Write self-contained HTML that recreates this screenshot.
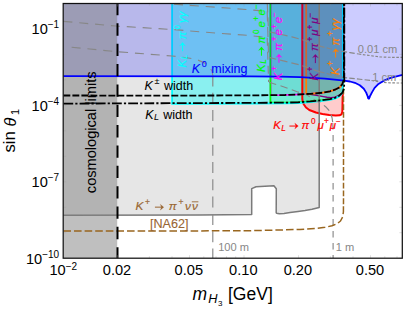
<!DOCTYPE html>
<html><head><meta charset="utf-8"><title>plot</title>
<style>html,body{margin:0;padding:0;background:#fff;}svg{display:block;}text{white-space:pre;}</style></head>
<body>
<svg width="407" height="309" viewBox="0 0 407 309">
<defs><clipPath id="c"><rect x="63.2" y="3.5" width="339.1" height="254.7"/></clipPath></defs>
<rect width="407" height="309" fill="#fff"/>
<g clip-path="url(#c)" fill="none" stroke-linejoin="round">
<path d="M63.4,3.4 L319.2,3.4 L319.2,207.4 L312.0,209.3 L305.0,210.6 L298.0,211.6 L290.0,212.6 L284.0,213.4 L279.3,213.8 L276.5,213.3 L276.2,212.6 L276.3,188.8 L273.9,185.7 L256.0,186.8 L251.7,188.6 L251.7,214.4 L200.0,215.0 L63.4,215.2 Z" fill="rgba(128,128,128,0.2)"/>
<path d="M302.3,3.4 L302.3,99.0 L302.8,102.0 L303.9,104.5 L306.0,107.5 L309.3,110.0 L315.9,112.5 L322.5,113.9 L329.2,114.9 L335.8,115.4 L339.5,115.3 L341.5,114.3 L342.3,112.0 L342.5,106.0 L342.6,98.0 L343.0,90.0 L343.3,3.4 Z" fill="rgba(255,0,0,0.2)"/>
<path d="M172.1,3.4 L172.1,103.9 L250.0,103.6 L285.0,103.3 L298.0,103.0 L310.3,102.1 L322.6,100.9 L330.0,99.9 L334.9,98.6 L339.3,96.4 L341.6,94.2 L342.7,90.5 L342.9,86.0 L342.9,3.4 Z" fill="rgba(0,255,255,0.4)"/>
<path d="M270.4,3.4 L270.4,102.7 L285.0,102.6 L298.0,102.3 L310.3,101.4 L322.6,100.2 L330.0,99.2 L334.9,97.9 L339.3,95.7 L342.5,92.6 L343.8,88.9 L344.3,84.0 L344.3,3.4 Z" fill="rgba(0,240,100,0.2)"/>
<path d="M302.5,3.4 L302.5,94.0 L310.0,94.3 L316.4,95.3 L322.0,96.4 L327.0,97.3 L331.0,97.6 L334.9,97.2 L338.5,95.6 L341.0,93.8 L342.8,91.5 L343.3,88.5 L343.3,3.4 Z" fill="rgba(128,0,128,0.1)"/>
<path d="M270.6,3.4 L270.6,95.2 L285.0,95.0 L298.0,94.5 L310.3,93.8 L322.6,92.7 L330.0,91.3 L334.9,89.7 L339.3,87.5 L342.2,84.5 L343.4,80.7 L343.9,76.0 L343.9,3.4 Z" fill="rgba(110,30,220,0.09)"/>
<path d="M270.6,3.4 L270.6,95.2 L285.0,95.0 L298.0,94.5 L310.3,93.8 L322.6,92.7 L330.0,91.3 L334.9,89.7 L339.3,87.5 L342.2,84.5 L343.4,80.7" stroke="#ff00ff" stroke-width="1.6"/>
<path d="M270.4,3.4 L270.4,102.7 L285.0,102.6 L298.0,102.3 L310.3,101.4 L322.6,100.2 L330.0,99.2 L334.9,97.9 L339.3,95.7 L342.5,92.6 L343.8,88.9" stroke="#00ff00" stroke-width="1.8"/>
<path d="M310.0,94.3 L316.4,95.3 L322.0,96.4 L327.0,97.3 L331.0,97.6 L334.9,97.2 L338.5,95.6 L341.0,93.8" stroke="#800080" stroke-width="1.4"/>
<path d="M302.4,3.4 L302.4,94.2 L310.3,93.8 L322.6,92.7 L330.0,91.3 L334.9,89.7 L339.3,87.5 L342.2,84.5 L343.4,80.7 L343.9,76.0 L343.9,3.4 Z" fill="rgba(90,120,0,0.1)"/>
<path d="M306.2,3.4 L306.2,94.0 L310.3,93.8 L322.6,92.7 L330.0,91.3 L334.9,89.7 L339.3,87.5 L342.2,84.5 L343.4,80.7" stroke="#ff8000" stroke-width="1.8"/>
<path d="M302.3,3.4 L302.3,99.0 L302.8,102.0 L303.9,104.5 L306.0,107.5 L309.3,110.0 L315.9,112.5 L322.5,113.9 L329.2,114.9 L335.8,115.4 L339.5,115.3 L341.5,114.3 L342.3,112.0 L342.5,106.0 L342.6,98.0 L343.0,90.0 L343.3,3.4" stroke="#ff0000" stroke-width="2"/>
<path d="M172.1,3.4 L172.1,103.9 L250.0,103.6 L285.0,103.3 L298.0,103.0 L310.3,102.1 L322.6,100.9 L330.0,99.9 L334.9,98.6 L339.3,96.4 L341.6,94.2 L342.7,90.5 L342.9,86.0 L342.9,3.4" stroke="#00ffff" stroke-width="1.8"/>
<path d="M63.4,3.4 L63.4,76.2 L250.0,76.3 L280.0,76.6 L300.0,77.2 L324.6,78.6 L337.0,79.8 L343.9,80.7 L350.0,81.5 L354.9,82.8 L359.8,85.2 L363.8,88.7 L366.2,92.6 L367.7,96.5 L368.6,98.6 L369.0,98.6 L369.8,96.5 L372.1,92.1 L374.6,87.9 L378.5,83.9 L383.4,80.9 L390.0,78.1 L395.5,76.6 L402.5,74.9 L402.5,3.4 Z" fill="rgba(0,0,255,0.2)"/>
<path d="M319.2,3.4 L319.2,207.4 L312.0,209.3 L305.0,210.6 L298.0,211.6 L290.0,212.6 L284.0,213.4 L279.3,213.8 L276.5,213.3 L276.2,212.6 L276.3,188.8 L273.9,185.7 L256.0,186.8 L251.7,188.6 L251.7,214.4 L200.0,215.0 L63.4,215.2" stroke="#7a7a7a" stroke-width="1.5"/>
<rect x="63.4" y="3.4" width="53.8" height="254.9" fill="rgba(128,128,128,0.5)"/>
<path d="M63.4,21.4 L116.0,26.0 L172.0,29.5 L219.0,33.3 L248.5,35.4 L267.8,37.6" stroke="#878787" stroke-width="1.15" stroke-dasharray="9 6.9"/>
<path d="M174.0,4.2 L189.5,5.3 L219.0,7.4 L248.5,9.7 L267.8,11.4" stroke="#878787" stroke-width="1.15" stroke-dasharray="9 6.9"/>
<path d="M71.6,47.2 L116.0,51.6 L172.0,56.0 L190.0,58.2 L197.8,60.0 L205.5,63.4 L210.0,67.4 L212.2,71.5 L212.8,75.5" stroke="#878787" stroke-width="1.15" stroke-dasharray="9 6.9"/>
<path d="M267.3,3.4 L268.5,31.6" stroke="#878787" stroke-width="1.15" stroke-dasharray="9 5"/>
<path d="M267.2,11.5 L268.6,57.2 L269.0,57.4" stroke="#878787" stroke-width="1.15" stroke-dasharray="10 5.5"/>
<path d="M267.2,37.7 L268.6,82.1" stroke="#878787" stroke-width="1.15" stroke-dasharray="8 6"/>
<path d="M269.0,31.8 L291.9,36.9 L304.0,40.2 L318.4,45.6 L319.2,45.9" stroke="#878787" stroke-width="1.15" stroke-dasharray="7.5 4"/>
<path d="M269.0,57.4 L279.6,60.0 L300.0,64.9 L316.0,70.6 L319.2,71.6" stroke="#878787" stroke-width="1.15" stroke-dasharray="7.5 4"/>
<path d="M269.0,82.3 L283.4,86.7 L297.2,91.8 L307.5,95.2 L311.5,98.1 L319.5,102.4 L322.6,104.3 L325.6,106.7 L328.7,110.0 L330.8,113.5 L332.1,118.0 L332.8,123.0" stroke="#878787" stroke-width="1.15" stroke-dasharray="7.5 4.5"/>
<path d="M212.8,75.5 L212.8,258.3" stroke="#878787" stroke-width="1.15" stroke-dasharray="11 6.3"/>
<path d="M332.8,123.0 L333.1,135.8 L333.1,258.3" stroke="#878787" stroke-width="1.15" stroke-dasharray="6.5 5.5"/>
<path d="M319.2,45.9 L330.0,48.8 L343.0,51.4 L350.0,52.6 L358.7,54.0" stroke="#878787" stroke-width="1.15" stroke-dasharray="5.5 2.2"/>
<path d="M319.2,71.6 L330.7,74.6 L344.0,77.5 L360.0,79.2 L371.5,80.5" stroke="#878787" stroke-width="1.15" stroke-dasharray="5.5 2.2"/>
<path d="M358.7,54.0 L370.0,55.6 L380.9,57.0 L390.0,57.3 L402.5,57.3" stroke="#878787" stroke-width="1.15" stroke-dasharray="2.6 1.6"/>
<path d="M371.5,80.5 L380.0,82.0 L390.0,82.9 L402.5,83.0" stroke="#878787" stroke-width="1.15" stroke-dasharray="2.6 1.6"/>
<path d="M63.4,76.2 L250.0,76.3 L280.0,76.6 L300.0,77.2 L324.6,78.6 L337.0,79.8 L343.9,80.7 L350.0,81.5 L354.9,82.8 L359.8,85.2 L363.8,88.7 L366.2,92.6 L367.7,96.5 L368.6,98.6 L369.0,98.6 L369.8,96.5 L372.1,92.1 L374.6,87.9 L378.5,83.9 L383.4,80.9 L390.0,78.1 L395.5,76.6 L402.5,74.9" stroke="#0000ff" stroke-width="1.8"/>
<circle cx="368.7" cy="97.6" r="1.5" fill="#0000ff"/>
<path d="M63.4,230.9 L200.0,230.9 L250.0,230.7 L280.0,230.0 L300.0,229.4 L315.0,228.5 L325.0,227.3 L332.0,225.8 L337.0,223.8 L340.5,221.0 L342.6,217.0 L343.4,212.0" stroke="#99661f" stroke-width="1.5" stroke-dasharray="7.6 3.0"/>
<path d="M343.4,212.0 L343.5,200.0 L343.5,88.0" stroke="#99661f" stroke-width="1.5" stroke-dasharray="5.8 2.05"/>
<path d="M63.4,95.5 L172.0,95.6 L250.0,95.4 L285.0,95.0 L298.0,94.5 L310.3,93.8 L322.6,92.7 L330.0,91.3 L334.9,89.7 L339.3,87.5 L342.2,84.5 L343.4,80.7 L343.9,76.0 L343.9,3.4" stroke="#000" stroke-width="1.8" stroke-dasharray="6.9 2.1"/>
<path d="M63.4,103.6 L172.0,103.2 L250.0,102.9 L285.0,102.6 L298.0,102.3 L310.3,101.4 L322.6,100.2 L330.0,99.2 L334.9,97.9 L339.3,95.7 L342.5,92.6 L343.8,88.9 L344.3,84.0 L344.3,3.4" stroke="#000" stroke-width="1.8" stroke-dasharray="9.8 2.1 2.2 2.1"/>
<path d="M117.5,3.0 L117.5,258.3" stroke="#000" stroke-width="2" stroke-dasharray="12.3 8.05"/>
</g>
<path d="M63.2,258.2 h3 M402.3,258.2 h-3 M63.2,232.7 h3 M402.3,232.7 h-3 M63.2,207.3 h3 M402.3,207.3 h-3 M63.2,181.8 h3 M402.3,181.8 h-3 M63.2,156.3 h3 M402.3,156.3 h-3 M63.2,130.8 h3 M402.3,130.8 h-3 M63.2,105.4 h3 M402.3,105.4 h-3 M63.2,79.9 h3 M402.3,79.9 h-3 M63.2,54.4 h3 M402.3,54.4 h-3 M63.2,29.0 h3 M402.3,29.0 h-3 M63.2,3.5 h3 M402.3,3.5 h-3 M117.5,258.2 v-3 M117.5,3.5 v3 M149.4,258.2 v-2 M149.4,3.5 v2 M172.0,258.2 v-2 M172.0,3.5 v2 M189.5,258.2 v-3 M189.5,3.5 v3 M203.8,258.2 v-2 M203.8,3.5 v2 M216.0,258.2 v-2 M216.0,3.5 v2 M226.5,258.2 v-2 M226.5,3.5 v2 M235.7,258.2 v-2 M235.7,3.5 v2 M244.0,258.2 v-3 M244.0,3.5 v3 M298.5,258.2 v-3 M298.5,3.5 v3 M330.4,258.2 v-2 M330.4,3.5 v2 M353.0,258.2 v-2 M353.0,3.5 v2 M370.5,258.2 v-3 M370.5,3.5 v3 M384.8,258.2 v-2 M384.8,3.5 v2 M397.0,258.2 v-2 M397.0,3.5 v2" stroke="#9a9a9a" stroke-width="0.5" fill="none" opacity="0.6"/>
<rect x="63.2" y="3.5" width="339.1" height="254.7" fill="none" stroke="#111" stroke-width="1.25"/>
<g font-family="Liberation Sans, sans-serif" fill="#000">
<text x="59.2" y="34.1" text-anchor="end" font-size="14.6" >10<tspan font-size="10.0" dy="-5.9">−1</tspan></text>
<text x="59.2" y="110.6" text-anchor="end" font-size="14.6" >10<tspan font-size="10.0" dy="-5.9">−4</tspan></text>
<text x="59.2" y="187.0" text-anchor="end" font-size="14.6" >10<tspan font-size="10.0" dy="-5.9">−7</tspan></text>
<text x="59.2" y="263.5" text-anchor="end" font-size="14.6" >10<tspan font-size="10.0" dy="-5.9">−10</tspan></text>
<text x="63.3" y="275.4" text-anchor="middle" font-size="14.6" >10<tspan font-size="10.0" dy="-5.9">−2</tspan></text>
<text x="117.0" y="275.4" text-anchor="middle" font-size="14.6">0.02</text>
<text x="188.8" y="275.4" text-anchor="middle" font-size="14.6">0.05</text>
<text x="243.3" y="275.4" text-anchor="middle" font-size="14.6">0.10</text>
<text x="297.9" y="275.4" text-anchor="middle" font-size="14.6">0.20</text>
<text x="370.0" y="275.4" text-anchor="middle" font-size="14.6">0.50</text>
<text x="192.6" y="299.7" font-size="17.5" font-style="italic">m</text>
<text x="208.2" y="303.2" font-size="12.8" font-style="italic">H</text>
<text x="217.9" y="306.0" font-size="8">3</text>
<text x="228.0" y="299.7" font-size="17.5">[GeV]</text>
<text transform="translate(15.3,152.6) rotate(-90)" font-size="16.8">sin</text>
<text transform="translate(15.5,126.6) rotate(-90)" font-size="16.2" font-style="italic">θ</text>
<text transform="translate(19.4,115.0) rotate(-90)" font-size="11">1</text>
</g>
<g transform="translate(185.60,67.40) rotate(-90)" font-family="Liberation Sans, sans-serif" fill="#00ffff" stroke="#00ffff" stroke-width="0.18"><text x="0.00" y="0.00" font-size="11.40" font-style="italic">K</text><text x="8.10" y="1.48" font-size="8.21" font-style="italic">L</text><path d="M16.17,-3.05 H23.57" stroke="#00ffff" stroke-width="1" fill="none"/><path d="M25.07,-3.05 L21.47,-6.05 L22.67,-3.05 L21.47,-0.05 Z" fill="#00ffff"/><text x="28.27" y="0.00" font-size="11.40" font-style="italic">π</text><text x="37.81" y="-5.36" font-size="8.21">0</text><text x="44.37" y="0.00" font-size="11.40" font-style="italic">γγ</text></g>
<g transform="translate(264.50,71.90) rotate(-90)" font-family="Liberation Sans, sans-serif" fill="#00ff00" stroke="#00ff00" stroke-width="0.18"><text x="0.00" y="0.00" font-size="11.40" font-style="italic">K</text><text x="8.10" y="1.48" font-size="8.21" font-style="italic">L</text><path d="M16.17,-3.05 H23.57" stroke="#00ff00" stroke-width="1" fill="none"/><path d="M25.07,-3.05 L21.47,-6.05 L22.67,-3.05 L21.47,-0.05 Z" fill="#00ff00"/><text x="28.27" y="0.00" font-size="11.40" font-style="italic">π</text><text x="37.81" y="-5.36" font-size="8.21">0</text><text x="44.37" y="0.00" font-size="11.40" font-style="italic">e</text><text x="50.81" y="-5.36" font-size="8.21">+</text><text x="56.50" y="0.00" font-size="11.40" font-style="italic">e</text><text x="62.94" y="-5.36" font-size="8.21">−</text></g>
<g transform="translate(282.00,80.30) rotate(-90)" font-family="Liberation Sans, sans-serif" fill="#ff00ff" stroke="#ff00ff" stroke-width="0.18"><text x="0.00" y="0.00" font-size="11.40" font-style="italic">K</text><text x="9.20" y="-5.36" font-size="8.21">+</text><path d="M17.50,-3.05 H24.90" stroke="#ff00ff" stroke-width="1" fill="none"/><path d="M26.40,-3.05 L22.80,-6.05 L24.00,-3.05 L22.80,-0.05 Z" fill="#ff00ff"/><text x="29.60" y="0.00" font-size="11.40" font-style="italic">π</text><text x="39.13" y="-5.36" font-size="8.21">+</text><text x="44.83" y="0.00" font-size="11.40" font-style="italic">e</text><text x="51.27" y="-5.36" font-size="8.21">+</text><text x="56.96" y="0.00" font-size="11.40" font-style="italic">e</text><text x="63.40" y="-5.36" font-size="8.21">−</text></g>
<g transform="translate(318.40,80.60) rotate(-90)" font-family="Liberation Sans, sans-serif" fill="#800080" stroke="#800080" stroke-width="0.18"><text x="0.00" y="0.00" font-size="11.40" font-style="italic">K</text><text x="9.20" y="-5.36" font-size="8.21">+</text><path d="M17.50,-3.05 H24.90" stroke="#800080" stroke-width="1" fill="none"/><path d="M26.40,-3.05 L22.80,-6.05 L24.00,-3.05 L22.80,-0.05 Z" fill="#800080"/><text x="29.60" y="0.00" font-size="11.40" font-style="italic">π</text><text x="39.13" y="-5.36" font-size="8.21">+</text><text x="44.83" y="0.00" font-size="11.40" font-style="italic">μ</text><text x="51.17" y="-5.36" font-size="8.21">+</text><text x="56.87" y="0.00" font-size="11.40" font-style="italic">μ</text><text x="63.21" y="-5.36" font-size="8.21">−</text></g>
<g transform="translate(338.70,75.00) rotate(-90)" font-family="Liberation Sans, sans-serif" fill="#ff8000" stroke="#ff8000" stroke-width="0.18"><text x="0.00" y="0.00" font-size="11.40" font-style="italic">K</text><text x="9.20" y="-5.36" font-size="8.21">+</text><path d="M17.50,-3.05 H24.90" stroke="#ff8000" stroke-width="1" fill="none"/><path d="M26.40,-3.05 L22.80,-6.05 L24.00,-3.05 L22.80,-0.05 Z" fill="#ff8000"/><text x="29.60" y="0.00" font-size="11.40" font-style="italic">π</text><text x="39.13" y="-5.36" font-size="8.21">+</text><text x="44.83" y="0.00" font-size="11.40" font-style="italic">γγ</text></g>
<g transform="translate(273.25,129.10)" font-family="Liberation Sans, sans-serif" fill="#ff0000" stroke="#ff0000" stroke-width="0.18"><text x="0.00" y="0.00" font-size="11.40" font-style="italic">K</text><text x="8.10" y="1.48" font-size="8.21" font-style="italic">L</text><path d="M16.17,-3.05 H23.57" stroke="#ff0000" stroke-width="1" fill="none"/><path d="M25.07,-3.05 L21.47,-6.05 L22.67,-3.05 L21.47,-0.05 Z" fill="#ff0000"/><text x="28.27" y="0.00" font-size="11.40" font-style="italic">π</text><text x="37.81" y="-5.36" font-size="8.21">0</text><text x="44.37" y="0.00" font-size="11.40" font-style="italic">μ</text><text x="50.72" y="-5.36" font-size="8.21">+</text><text x="56.41" y="0.00" font-size="11.40" font-style="italic">μ</text><text x="62.75" y="-5.36" font-size="8.21">−</text></g>
<g transform="translate(191.70,73.20)" font-family="Liberation Sans, sans-serif" fill="#0000ff" stroke="#0000ff" stroke-width="0.10"><text x="0.00" y="0.00" font-size="12.50" font-style="italic">K</text><text x="9.94" y="-5.88" font-size="9.00">0</text><text x="19.54" y="0.00" font-size="12.50">mixing</text></g>
<g transform="translate(144.60,90.10)" font-family="Liberation Sans, sans-serif" fill="#000" stroke="#000" stroke-width="0.05"><text x="0.00" y="0.00" font-size="12.50" font-style="italic">K</text><text x="9.94" y="-5.88" font-size="9.00">±</text><text x="19.38" y="0.00" font-size="12.50">width</text></g>
<g transform="translate(145.20,118.50)" font-family="Liberation Sans, sans-serif" fill="#000" stroke="#000" stroke-width="0.05"><text x="0.00" y="0.00" font-size="12.50" font-style="italic">K</text><text x="8.84" y="1.62" font-size="9.00" font-style="italic">L</text><text x="18.04" y="0.00" font-size="12.50">width</text></g>
<g transform="translate(135.60,210.20)" font-family="Liberation Sans, sans-serif" fill="#996633" stroke="#996633" stroke-width="0.18"><text x="0.00" y="0.00" font-size="11.80" font-style="italic">K</text><text x="9.47" y="-5.55" font-size="8.50">+</text><path d="M19.33,-3.05 H26.73" stroke="#996633" stroke-width="1" fill="none"/><path d="M28.23,-3.05 L24.63,-6.05 L25.83,-3.05 L24.63,-0.05 Z" fill="#996633"/><text x="33.13" y="0.00" font-size="11.80" font-style="italic">π</text><text x="42.94" y="-5.55" font-size="8.50">+</text><text x="49.40" y="0.00" font-size="11.80" font-style="italic">ν</text><text x="56.30" y="0.00" font-size="11.80" font-style="italic">ν</text><path d="M56.20,-8.38 H62.80" stroke="#996633" stroke-width="0.9" fill="none"/></g>
<g transform="translate(149.90,227.90)" font-family="Liberation Sans, sans-serif" fill="#996633" stroke="#996633" stroke-width="0.10"><text x="0.00" y="0.00" font-size="12.60">[NA62]</text></g>
<text transform="translate(95.5,132.3) rotate(-90)" text-anchor="middle" font-family="Liberation Sans, sans-serif" font-size="14.6" fill="#000">cosmological limits</text>
<text x="218.2" y="250.6" font-family="Liberation Sans, sans-serif" font-size="11.1" fill="#878787">100 m</text>
<text x="335.8" y="250.7" font-family="Liberation Sans, sans-serif" font-size="11.1" fill="#878787">1 m</text>
<text x="357.8" y="53.0" font-family="Liberation Sans, sans-serif" font-size="11.1" fill="#878787">0.01 cm</text>
<text x="372.2" y="80.8" font-family="Liberation Sans, sans-serif" font-size="11.1" fill="#878787">1 cm</text>
</svg>
</body></html>
